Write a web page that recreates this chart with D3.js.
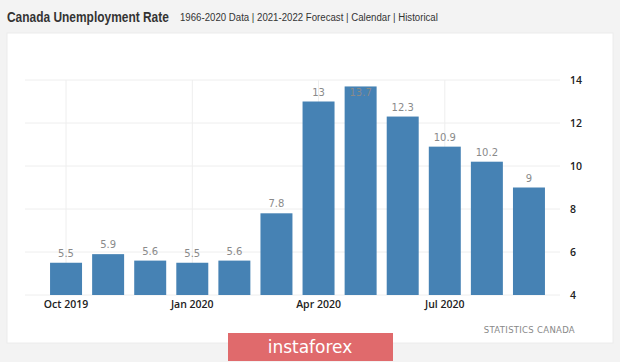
<!DOCTYPE html>
<html>
<head>
<meta charset="utf-8">
<script src="https://cdn.jsdelivr.net/npm/d3@7"></script>
<style>
  body { margin: 0; background: #f3f3f3; }
  svg { display: block; }
</style>
</head>
<body>
<div id="container"></div>
<script>
const months = ["Oct 2019", "Nov 2019", "Dec 2019", "Jan 2020", "Feb 2020", "Mar 2020",
  "Apr 2020", "May 2020", "Jun 2020", "Jul 2020", "Aug 2020", "Sep 2020"];
const rates = [5.5, 5.9, 5.6, 5.5, 5.6, 7.8, 13, 13.7, 12.3, 10.9, 10.2, 9];
const xTicks = ["Oct 2019", "Jan 2020", "Apr 2020", "Jul 2020"];
const yTicks = [4, 6, 8, 10, 12, 14];

const W = 620, H = 362;
const svg = d3.select("#container").append("svg").attr("width", W).attr("height", H);

svg.append("rect").attr("width", W).attr("height", H).attr("fill", "#f3f3f3");
// white card
svg.append("rect")
  .attr("x", 7).attr("y", 33).attr("width", 606).attr("height", 310)
  .attr("fill", "#fff").attr("stroke", "#ececec");

// header: squeeze the text horizontally to the widths seen in the picture
function header(str, x0, y0, size, bold, targetWidth) {
  const t = svg.append("text")
    .attr("font-family", "'Liberation Sans', sans-serif")
    .attr("font-size", size).attr("font-weight", bold ? "bold" : "normal")
    .attr("fill", "#333")
    .text(str);
  const w = t.node().getComputedTextLength();
  t.attr("transform", `translate(${x0},${y0}) scale(${targetWidth / w},1)`);
}
header("Canada Unemployment Rate", 7, 22, 15, true, 162);
header("1966-2020 Data | 2021-2022 Forecast | Calendar | Historical", 180, 21, 11.5, false, 258);

const x = d3.scaleBand().domain(months).range([45, 550]).paddingInner(0.24).paddingOuter(0.12);
const y = d3.scaleLinear().domain([4, 14]).range([295, 80]);

// gridlines
const grid = svg.append("g");
grid.selectAll(".hg").data(yTicks).enter().append("line")
  .attr("x1", 25).attr("x2", 560)
  .attr("y1", d => y(d)).attr("y2", d => y(d))
  .attr("stroke", "#eeeeee");
grid.selectAll(".vg").data(xTicks).enter().append("line")
  .attr("x1", d => x(d) + x.bandwidth() / 2).attr("x2", d => x(d) + x.bandwidth() / 2)
  .attr("y1", 80).attr("y2", 295)
  .attr("stroke", "#eeeeee");

// bars
svg.selectAll(".bar").data(rates).enter().append("rect")
  .attr("x", (d, i) => x(months[i]))
  .attr("y", d => y(d))
  .attr("width", x.bandwidth())
  .attr("height", d => y(4) - y(d))
  .attr("fill", "#4682b4");

// value labels
svg.selectAll(".val").data(rates).enter().append("text")
  .attr("x", (d, i) => x(months[i]) + x.bandwidth() / 2)
  .attr("y", d => Math.max(y(d) - 6, 96))
  .attr("text-anchor", "middle")
  .attr("font-family", "DejaVu Sans, sans-serif")
  .attr("font-size", 10).attr("fill", "#8a8a8a")
  .text(d => d);

// x axis
const xAxis = d3.axisBottom(x).tickValues(xTicks).tickSize(0).tickPadding(6);
const gx = svg.append("g").attr("transform", "translate(0,295)").call(xAxis);
gx.select(".domain").remove();
gx.selectAll("text")
  .attr("font-family", "Open Sans, sans-serif")
  .attr("font-size", 10.5).attr("font-weight", 600).attr("fill", "#222");

// y axis
const yAxis = d3.axisRight(y).tickValues(yTicks).tickSize(0).tickPadding(10);
const gy = svg.append("g").attr("transform", "translate(560,0)").call(yAxis);
gy.select(".domain").remove();
gy.selectAll("text")
  .attr("font-family", "Open Sans, sans-serif")
  .attr("font-size", 10.5).attr("font-weight", 600).attr("fill", "#222");

// source
svg.append("text")
  .attr("x", 575).attr("y", 333)
  .attr("text-anchor", "end")
  .attr("font-family", "DejaVu Sans, sans-serif")
  .attr("font-size", 8.5).attr("fill", "#888").attr("letter-spacing", 0.3)
  .text("STATISTICS CANADA");

// watermark box
svg.append("rect")
  .attr("x", 228).attr("y", 333).attr("width", 165).attr("height", 28)
  .attr("fill", "#e06a6c");
svg.append("text")
  .attr("x", 310).attr("y", 353)
  .attr("text-anchor", "middle")
  .attr("font-family", "DejaVu Sans, sans-serif")
  .attr("font-size", 17).attr("fill", "#fff")
  .text("instaforex");
</script>
</body>
</html>
